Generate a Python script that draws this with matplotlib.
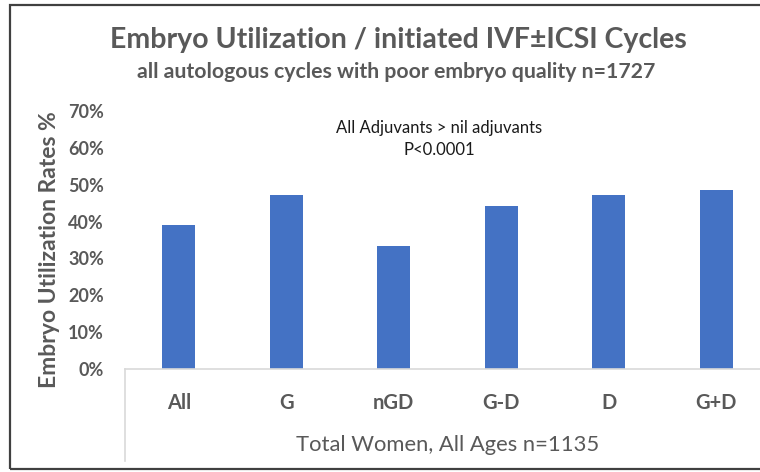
import matplotlib
matplotlib.use("Agg")
import matplotlib.pyplot as plt
from matplotlib.lines import Line2D
from matplotlib.patches import Rectangle
from matplotlib.ticker import PercentFormatter
import numpy as np

plt.rcParams['font.family'] = ['Lato', 'DejaVu Sans']

# data
categories = ["All", "G", "nGD", "G-D", "D", "G+D"]
rates = [0.39, 0.472, 0.334, 0.443, 0.471, 0.485]
yticks = [0, 0.1, 0.2, 0.3, 0.4, 0.5, 0.6, 0.7]

title = "Embryo Utilization / initiated IVF\u00b1ICSI Cycles"
subtitle = "all autologous cycles with poor embryo quality n=1727"
xlabel = "Total Women, All Ages n=1135"
ylabel = "Embryo Utilization Rates %"
note = ["All Adjuvants > nil adjuvants", "P<0.0001"]

BAR = "#4472C4"
GREY = "#595959"
W, H = 760, 472

fig = plt.figure(figsize=(W / 100, H / 100), dpi=100)

# plot area (right side runs off the picture like the reference crop)
ax = fig.add_axes([125 / W, (H - 369) / H, (770 - 125) / W, (369 - 111) / H])
x = np.arange(len(categories))
ax.bar(x, rates, width=0.31, color=BAR)
ax.set_xlim(-0.5, len(categories) - 0.5)
ax.set_ylim(0, 0.7)
ax.set_yticks(yticks)
ax.yaxis.set_major_formatter(PercentFormatter(1.0, decimals=0))
ax.set_xticks(x)
ax.set_xticklabels(categories)
for s in ["top", "right", "left"]:
    ax.spines[s].set_visible(False)
ax.spines["bottom"].set_color("#d9d9d9")
ax.spines["bottom"].set_linewidth(1.2)
ax.tick_params(axis="both", length=0, colors=GREY)
ax.tick_params(axis="y", pad=15, labelsize=13)
ax.tick_params(axis="x", pad=17, labelsize=14.5)
for lab in ax.get_xticklabels() + ax.get_yticklabels():
    lab.set_fontweight("bold")

fig.text(439 / W, 1 - 128 / H, note[0], ha="center", va="center",
         fontsize=12, color="#1a1a1a")
fig.text(439 / W, 1 - 150 / H, note[1], ha="center", va="center",
         fontsize=12, color="#1a1a1a")

# category block line at left of the x axis
fig.add_artist(Line2D([125 / W, 125 / W], [(H - 369) / H, (H - 461) / H],
                      color="#d9d9d9", lw=1.2))

fig.text(398 / W, 1 - 40 / H, title, ha="center", va="center",
         fontsize=20.5, fontweight="bold", color=GREY)
fig.text(396 / W, 1 - 72 / H, subtitle, ha="center", va="center",
         fontsize=15.3, fontweight="bold", color=GREY)
fig.text(448 / W, 1 - 445 / H, xlabel, ha="center", va="center",
         fontsize=15.8, color=GREY)
fig.text(50 / W, 1 - 250 / H, ylabel, ha="center", va="center",
         rotation=90, fontsize=16.5, fontweight="bold", color=GREY)

# outer chart frame
fig.add_artist(Rectangle((10 / W, (H - 469) / H), 1.0, (469 - 5) / H,
                         transform=fig.transFigure, fill=False,
                         edgecolor="#404040", lw=1.6))

fig.savefig("out.png", dpi=100)
